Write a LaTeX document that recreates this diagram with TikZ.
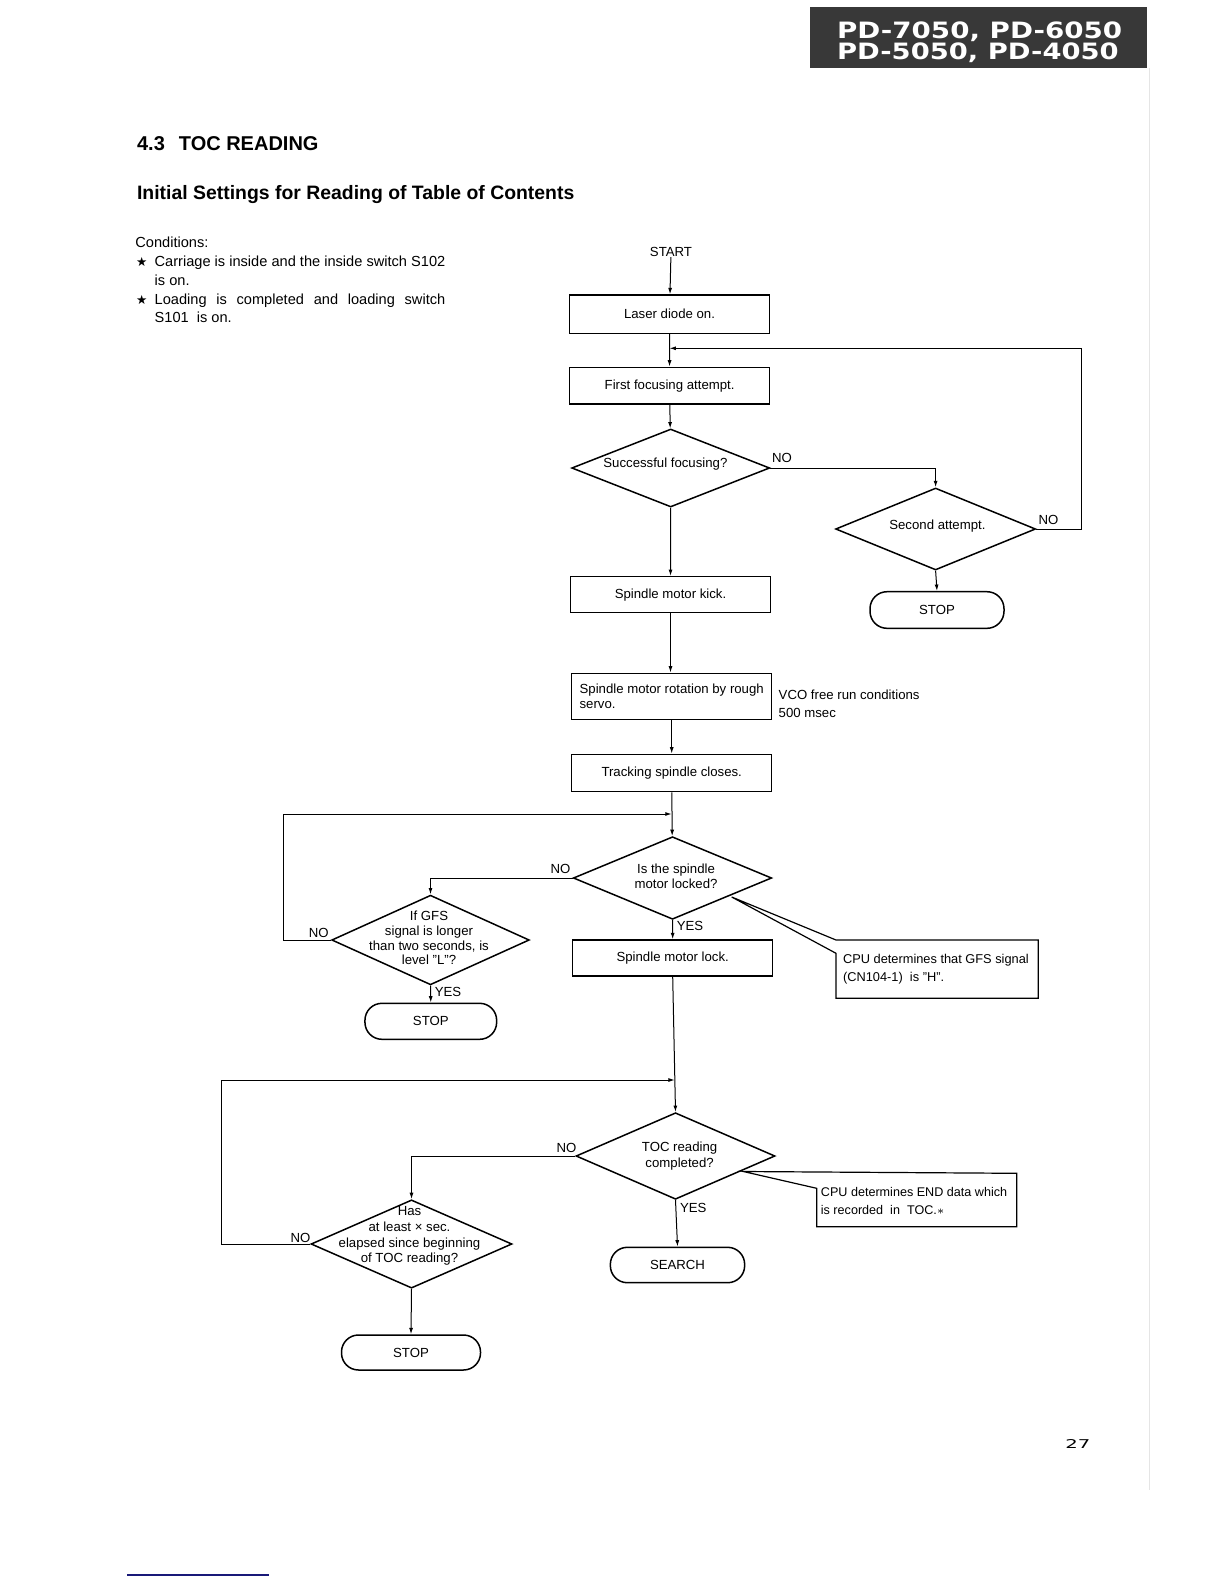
\documentclass[tikz,border=0pt]{standalone}
\usepackage{graphicx}
\usepackage{fontspec}
\setmainfont{Liberation Sans}
\newfontfamily\symfont{DejaVu Sans}
\usetikzlibrary{shapes.geometric,arrows.meta,calc}
\definecolor{navyline}{RGB}{25,25,120}
\begin{document}
\begin{tikzpicture}[x=0.5pt,y=-0.5pt,
  ff/.style={font=\fontsize{6.6}{7.6}\selectfont},
  cf/.style={font=\fontsize{7.3}{9}\selectfont, inner sep=0pt, anchor=base west},
  box/.style={draw, line width=0.75pt, inner sep=0pt, ff},
  dia/.style={draw, diamond, line width=0.75pt, inner sep=0pt},
  term/.style={draw, rounded corners=8.5pt, line width=0.75pt, inner sep=0pt, ff},
  conn/.style={line width=0.5pt},
  arr/.style={conn, -{Latex[length=3.2pt,width=2pt]}},
  lbl/.style={ff, inner sep=0pt},
  txt/.style={ff, inner sep=0pt, align=center},
  callout/.style={line width=0.6pt}
]
\fill[white] (0,0) rectangle (1224,1584);
\useasboundingbox (0,0) rectangle (1224,1584);

% header block
\fill[black!78] (810,6.7) rectangle (1147,68.3);
\node[anchor=base west, inner sep=0pt, text=white] (hd1) at (836.7,38.4)
  {\resizebox{142.5pt}{8.35pt}{\symfont\bfseries PD-7050, PD-6050}};
\node[anchor=base west, inner sep=0pt, text=white] (hd2) at (836.7,60)
  {\resizebox{140.8pt}{8.35pt}{\symfont\bfseries PD-5050, PD-4050}};
\draw[black!10, line width=0.5pt] (1149,68.3) -- (1149,1490);

% titles
\node[anchor=base west, inner sep=0pt, font=\fontsize{10}{12}\selectfont\bfseries] (title) at (136.7,150.7)
  {4.3\hspace{0.7em}TOC READING};
\node[anchor=base west, inner sep=0pt, font=\fontsize{9.7}{12}\selectfont\bfseries] (sub) at (136.7,199.3)
  {Initial Settings for Reading of Table of Contents};

% conditions
\node[cf] (cond) at (135,247.7) {Conditions:};
\node[anchor=base, inner sep=0pt, font=\symfont\fontsize{6.3}{7}\selectfont] (star1) at (141.7,266.7) {★};
\node[cf] (c1) at (154.3,266.7) {\makebox[145.3pt][s]{Carriage is inside and the inside switch S102}};
\node[cf] (c2) at (154.3,285) {is on.};
\node[anchor=base, inner sep=0pt, font=\symfont\fontsize{6.3}{7}\selectfont] (star2) at (141.7,304.3) {★};
\node[cf] (c3) at (154.3,304.3) {\makebox[145.3pt][s]{Loading is completed and loading switch}};
\node[cf] (c4) at (154.3,322.7) {S101\ \ is on.};

% flowchart nodes
\node[lbl] (start) at (671,252) {START};
\node[box, minimum width=100pt, minimum height=19.15pt] (laser) at (669.5,314.2) {Laser diode on.};
\node[box, minimum width=100pt, minimum height=18.35pt] (focus) at (669.6,385.7) {First focusing attempt.};
\node[dia, minimum width=99pt, minimum height=39pt] (d1) at (670.7,468) {};
\node[txt] (d1t) at (665.4,464.3) {Successful focusing?};
\node[dia, minimum width=100pt, minimum height=41pt] (d2) at (935.6,529) {};
\node[txt] (d2t) at (937.4,525.7) {Second attempt.};
\node[term, minimum width=67pt, minimum height=18.3pt] (stop2) at (937,610) {STOP};
\node[box, minimum width=100pt, minimum height=18pt] (kick) at (670.5,594.7) {Spindle motor kick.};
\node[box, minimum width=100pt, minimum height=23pt, align=left, font=\fontsize{6.6}{7.8}\selectfont] (rot) at (671.7,696.3)
  {Spindle motor rotation by rough\\servo.};
\node[lbl, anchor=west, align=left, font=\fontsize{6.6}{8.85}\selectfont] (vco) at (778.3,703.8)
  {VCO free run conditions\\500 msec};
\node[box, minimum width=100pt, minimum height=18.7pt] (track) at (671.7,773) {Tracking spindle closes.};
\node[dia, minimum width=99.2pt, minimum height=41.3pt] (d3) at (672.5,878) {};
\node[txt, font=\fontsize{6.6}{7.5}\selectfont] (d3t) at (676,875.8) {Is the spindle\\motor locked?};
\node[box, minimum width=100pt, minimum height=18pt] (lock) at (672.7,958) {Spindle motor lock.};
\node[dia, minimum width=98.8pt, minimum height=44.85pt] (d4) at (430.5,940) {};
\node[txt, font=\fontsize{6.6}{7.35}\selectfont] (d4t) at (429,938)
  {If GFS\\signal is longer\\than two seconds, is\\level ''L''?};
\node[term, minimum width=65.85pt, minimum height=18pt] (stop3) at (430.8,1021.3) {STOP};
\node[dia, minimum width=99.5pt, minimum height=43.3pt] (d5) at (675.5,1156) {};
\node[txt, font=\fontsize{6.6}{7.85}\selectfont] (d5t) at (679.6,1156.2) {TOC reading\\completed?};
\node[term, minimum width=67.15pt, minimum height=17.7pt] (search) at (677.5,1265) {SEARCH};
\node[dia, minimum width=100.5pt, minimum height=44.15pt] (d6) at (411.5,1244) {};
\node[txt, font=\fontsize{6.6}{7.85}\selectfont] (d6t) at (409.5,1236)
  {Has\\at least × sec.\\elapsed since beginning\\of TOC reading?};
\node[term, minimum width=69.5pt, minimum height=17.5pt] (stop4) at (411,1352.5) {STOP};

% callouts
\coordinate (c1apex) at (731.7,897);
\draw[callout] (836,953.3) -- (c1apex) -- (836,940) -- (1038.3,940) -- (1038.3,998.3) -- (836,998.3) -- cycle;
\node[lbl, anchor=west, align=left, font=\fontsize{6.4}{9}\selectfont] (c1t) at (842.7,969.2)
  {CPU determines that GFS signal\\(CN104-1)\ \ is ''H''.};
\coordinate (c2apex) at (743.3,1171.5);
\draw[callout] (816.7,1188.3) -- (c2apex) -- (1016.7,1173.3) -- (1016.7,1226.7) -- (816.7,1226.7) -- cycle;
\node[lbl, anchor=west, align=left, font=\fontsize{6.3}{9.1}\selectfont] (c2t) at (820.5,1200.8)
  {CPU determines END data which\\is recorded\ \ in\ \ TOC.$\ast$};

% junction coordinates
\coordinate (j1) at (669.5,348.3);
\coordinate (j2) at (671.7,814);
\coordinate (j3) at (674.8,1080);

% connectors
\draw[arr] (start) -- (laser);
\draw[arr] (laser) -- (focus);
\draw[arr] (focus) -- (d1);
\draw[arr] (d1.south) -- (kick.north);
\draw[arr] (d1.east) -| (d2.north);
\node[lbl] (no1) at (782,458) {NO};
\draw[arr] (d2.south) -- (stop2.north);
\draw[arr] (d2.east) -- ++(44.8,0) |- (j1);
\node[lbl] (no2) at (1048.5,520) {NO};
\draw[arr] (kick.south) -- (kick.south |- rot.north);
\draw[arr] (rot) -- (track);
\draw[arr] (track) -- (d3);
\draw[arr] (d3.west) -| (d4.north);
\node[lbl] (no3) at (560.5,869) {NO};
\draw[arr] (d4.south) -- (stop3.north);
\node[lbl] (yes2) at (448,991.7) {YES};
\draw[arr] (d4.west) -- ++(-47.7,0) |- (j2);
\node[lbl] (no4) at (318.7,932.7) {NO};
\draw[arr] (d3.south) -- (lock.north);
\node[lbl] (yes1) at (690,926) {YES};
\draw[arr] (lock.south) -- (d5.north);
\draw[arr] (d5.west) -| (d6.north);
\node[lbl] (no5) at (566.4,1148.3) {NO};
\draw[arr] (d5.south) -- (search.north);
\node[lbl] (yes3) at (693.3,1207.7) {YES};
\draw[arr] (d6.west) -- ++(-88.5,0) |- (j3);
\node[lbl] (no6) at (300.4,1238.3) {NO};
\draw[arr] (d6.south) -- (stop4.north);

% page number and footer rule
\node[anchor=base west, inner sep=0pt] (pg) at (1065,1448.3) {\resizebox{12.5pt}{4.5pt}{\symfont 27}};
\draw[navyline, line width=0.9pt] (127.3,1574.7) -- (269,1574.7);
\end{tikzpicture}
\end{document}
